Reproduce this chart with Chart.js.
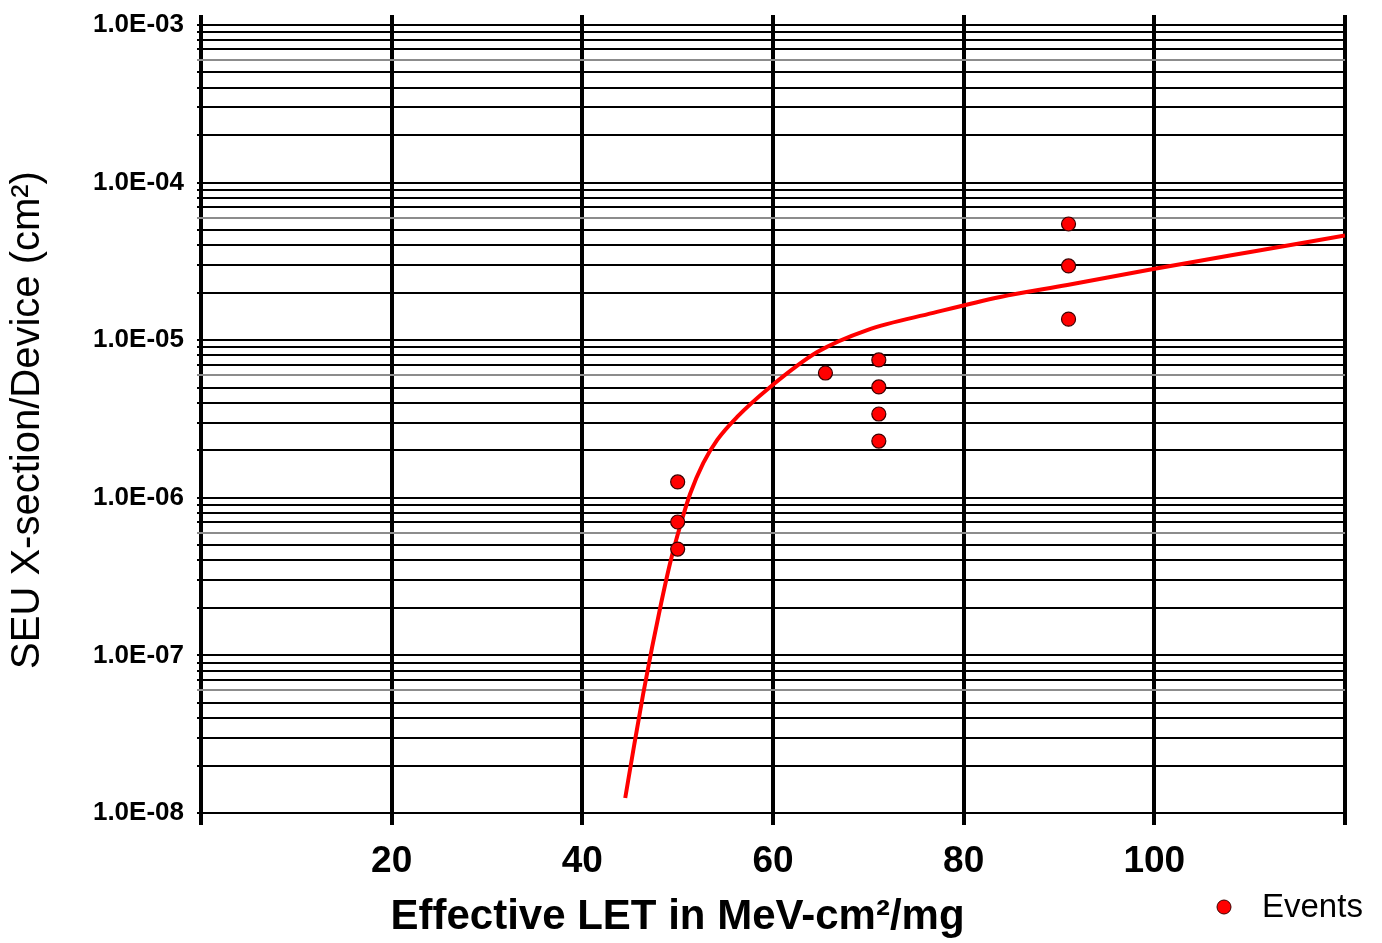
<!DOCTYPE html>
<html>
<head>
<meta charset="utf-8">
<script src="https://cdn.jsdelivr.net/npm/chart.js@4.4.0/dist/chart.umd.min.js"></script>
<style>
  body { margin: 0; background: #fff; }
  canvas { display: block; }
</style>
</head>
<body>
<canvas id="chart" width="1382" height="943"></canvas>
<script>
// measured events (LET, cross-section)
const eventLet = [91, 91, 91, 65.5, 71.1, 71.1, 71.1, 71.1, 50, 50, 50];
const eventXs = [5.46e-5, 2.96e-5, 1.36e-5, 6.19e-6, 7.49e-6, 5.05e-6, 3.40e-6, 2.29e-6, 1.26e-6, 7.02e-7, 4.73e-7];

// fitted curve
const fitLet = [44.5, 45.44, 46.38, 47.32, 48.27, 49.21, 50.26, 51.31, 52.68, 54.15, 56.24, 59.71, 64.64, 69.88, 76.81, 83.84, 90.87, 99.9, 110.07, 120];
const fitXs = [1.245e-8, 2.70e-8, 5.69e-8, 1.13e-7, 2.15e-7, 3.86e-7, 6.62e-7, 1.06e-6, 1.66e-6, 2.33e-6, 3.26e-6, 5.05e-6, 8.41e-6, 1.16e-5, 1.49e-5, 1.88e-5, 2.24e-5, 2.83e-5, 3.63e-5, 4.61e-5];

const xTicks = [0, 20, 40, 60, 80, 100, 120];
const yDecades = [-8, -7, -6, -5, -4];
const yTop = 1e-3;

// every 1..9 x 10^e line of the log grid
const yTicks = [];
yDecades.forEach(e => {
  for (let k = 1; k <= 9; k++) yTicks.push(Number((k * Math.pow(10, e)).toPrecision(3)));
});
yTicks.push(yTop);

function mantissa(v) {
  const e = Math.floor(Math.log10(v) + 1e-9);
  return Math.round(v / Math.pow(10, e));
}

const eventsKey = {
  id: 'eventsKey',
  afterDraw(chart) {
    const c = chart.ctx;
    const ds = chart.data.datasets[0];
    c.save();
    c.beginPath();
    c.arc(chart.width - 158, chart.height - 36, 7, 0, Math.PI * 2);
    c.fillStyle = ds.backgroundColor;
    c.fill();
    c.lineWidth = 1;
    c.strokeStyle = ds.borderColor;
    c.stroke();
    c.fillStyle = '#000';
    c.font = '33px "Liberation Sans", Arial, sans-serif';
    c.textBaseline = 'alphabetic';
    c.fillText(ds.label, chart.width - 120, chart.height - 26);
    c.restore();
  }
};

const ctx = document.getElementById('chart').getContext('2d');
new Chart(ctx, {
  type: 'scatter',
  data: {
    datasets: [{
      label: 'Events',
      data: eventLet.map((x, i) => ({ x: x, y: eventXs[i] })),
      backgroundColor: '#ff0000',
      borderColor: '#3a0000',
      borderWidth: 1.2,
      pointRadius: 7
    }, {
      label: 'Fit',
      data: fitLet.map((x, i) => ({ x: x, y: fitXs[i] })),
      showLine: true,
      borderColor: '#ff0000',
      borderWidth: 4,
      pointRadius: 0,
      cubicInterpolationMode: 'monotone'
    }]
  },
  options: {
    responsive: false,
    animation: false,
    layout: { padding: { left: 10, right: 37, top: 0, bottom: 0 } },
    plugins: {
      legend: { display: false },
      tooltip: { enabled: false },
      title: {
        display: true,
        position: 'bottom',
        text: 'Effective LET in MeV-cm²/mg',
        color: '#000',
        font: { family: '"Liberation Sans", Arial, sans-serif', size: 42, weight: 'bold' },
        padding: 0
      }
    },
    scales: {
      x: {
        type: 'linear',
        min: xTicks[0],
        max: xTicks[xTicks.length - 1],
        afterBuildTicks: s => { s.ticks = xTicks.map(v => ({ value: v })); },
        afterFit: s => { s.height = 67.6; },
        border: { display: false },
        grid: { color: '#000', lineWidth: 4, drawTicks: false },
        ticks: {
          autoSkip: false,
          padding: 15,
          color: '#000',
          font: { family: '"Liberation Sans Narrow", "Liberation Sans", Arial, sans-serif', size: 37, weight: 'bold' },
          callback: v => (v === xTicks[0] || v === xTicks[xTicks.length - 1]) ? '' : v
        }
      },
      y: {
        type: 'logarithmic',
        min: 8.39e-9,
        max: 1.157e-3,
        afterBuildTicks: s => { s.ticks = yTicks.map(v => ({ value: v })); },
        afterFit: s => { s.width = 191; s.paddingTop = 15; s.paddingBottom = 0; },
        border: { display: false },
        grid: {
          color: c => (c.tick && mantissa(c.tick.value) === 6) ? '#8c8c8c' : '#000',
          lineWidth: 2,
          tickLength: 4
        },
        ticks: {
          autoSkip: false,
          padding: 13,
          color: '#000',
          font: { family: '"Liberation Sans", Arial, sans-serif', size: 26, weight: 'bold' },
          callback: v => {
            if (mantissa(v) !== 1) return '';
            const e = Math.round(Math.log10(v));
            return '1.0E-' + String(-e).padStart(2, '0');
          }
        },
        title: {
          display: true,
          text: 'SEU X-section/Device (cm²)',
          color: '#000',
          font: { family: '"Liberation Sans", Arial, sans-serif', size: 40 },
          padding: { top: -6, bottom: 0 }
        }
      }
    }
  },
  plugins: [eventsKey]
});
</script>
</body>
</html>
